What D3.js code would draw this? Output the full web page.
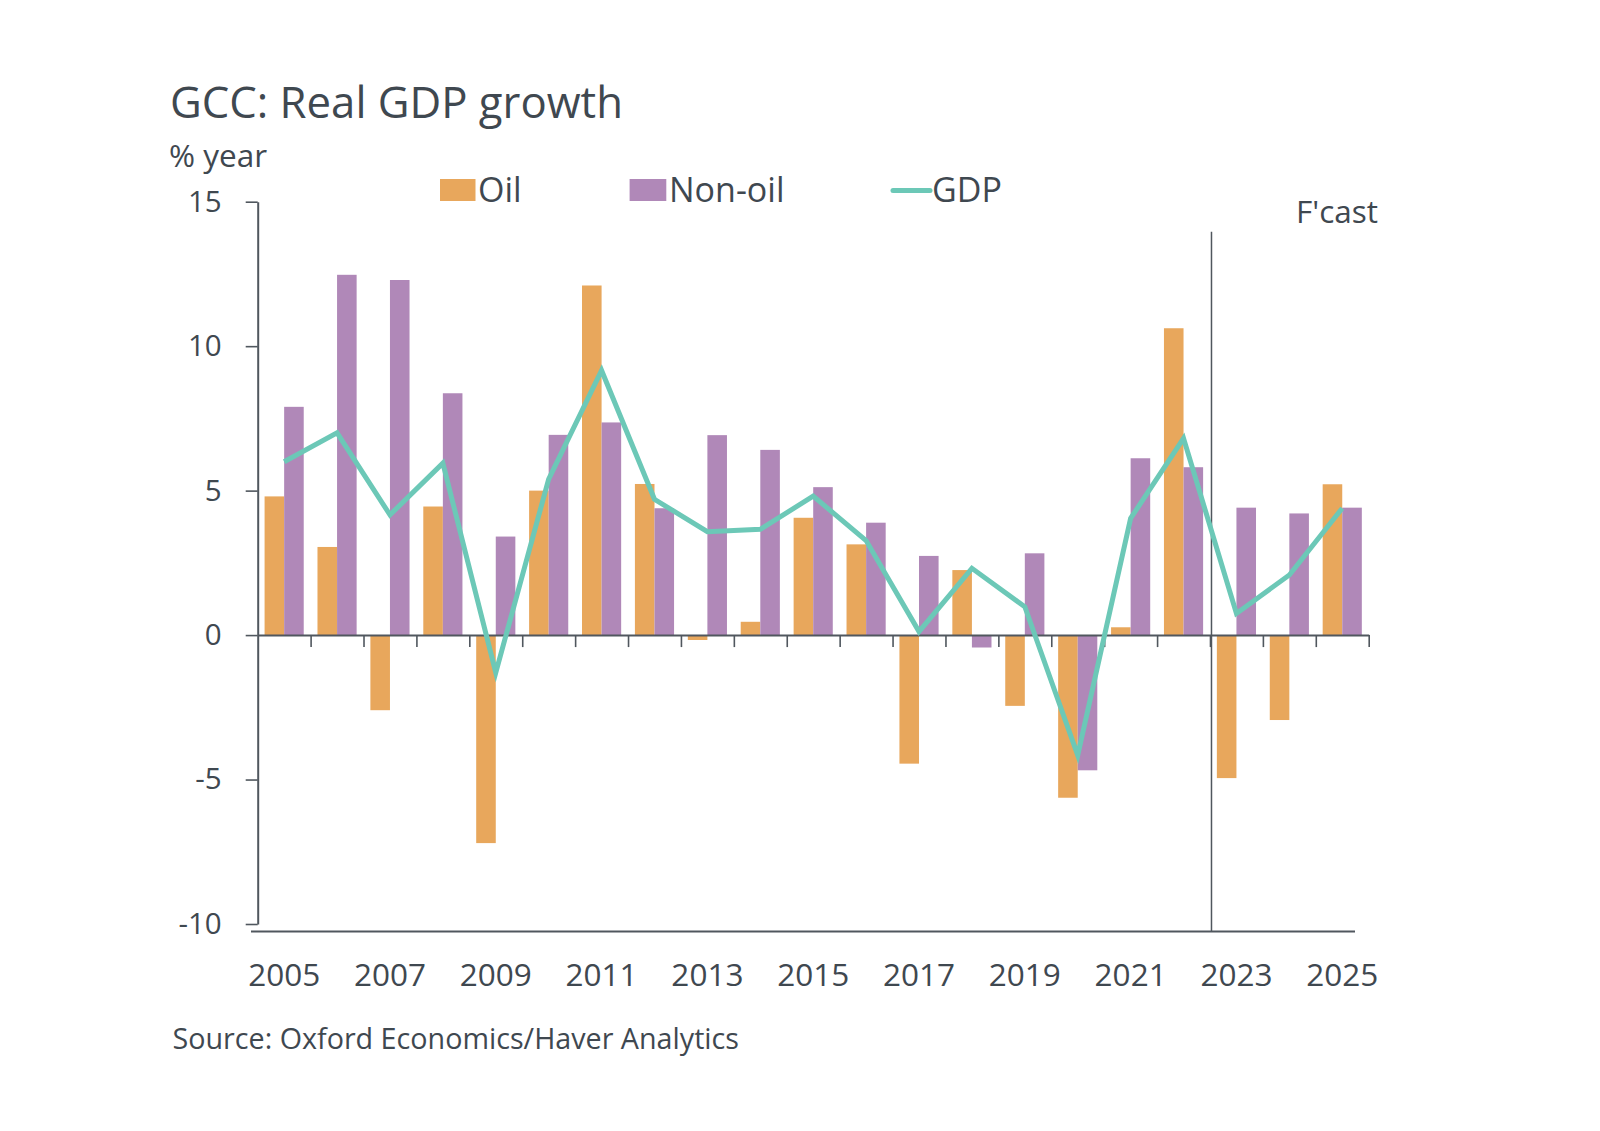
<!DOCTYPE html>
<html>
<head>
<meta charset="utf-8">
<script src="https://cdn.jsdelivr.net/npm/d3@7"></script>
<style>
  html, body { margin: 0; padding: 0; background: #ffffff; }
  svg { display: block; }
  text { font-family: "Open Sans", "Noto Sans", sans-serif; fill: #3f4850; }
</style>
</head>
<body>
<svg id="chart" width="1600" height="1131"></svg>
<script>
// ---- Data ----
const years = [2005, 2006, 2007, 2008, 2009, 2010, 2011, 2012, 2013, 2014, 2015,
               2016, 2017, 2018, 2019, 2020, 2021, 2022, 2023, 2024, 2025];
const oil    = [4.8, 3.05, -2.6, 4.45, -7.2, 5.0, 12.1, 5.23, -0.17, 0.46, 4.06,
                3.14, -4.45, 2.25, -2.45, -5.63, 0.27, 10.62, -4.95, -2.94, 5.22];
const nonOil = [7.9, 12.47, 12.29, 8.37, 3.41, 6.93, 7.36, 4.39, 6.92, 6.41, 5.12,
                3.89, 2.74, -0.43, 2.83, -4.68, 6.12, 5.81, 4.41, 4.21, 4.41];
const gdp    = [6.0, 7.0, 4.16, 5.95, -1.3, 5.4, 9.16, 4.7, 3.58, 3.66, 4.81,
                3.27, 0.12, 2.31, 0.98, -4.16, 4.04, 6.81, 0.75, 2.08, 4.39];
const yTicks = [15, 10, 5, 0, -5, -10];
const xLabels = [2005, 2007, 2009, 2011, 2013, 2015, 2017, 2019, 2021, 2023, 2025];
const seriesNames = ["Oil", "Non-oil", "GDP"];
const forecastStart = 2023;

// ---- Styles ----
const colOil = "#e8a75c", colNon = "#b088b8", colGdp = "#6cc8b7", axisCol = "#50575e";

const svg = d3.select("#chart");

const x = d3.scaleBand().domain(years).range([257.7, 1368.7]).paddingInner(0).paddingOuter(0);
const bw = x.bandwidth();
const x1 = d3.scaleBand().domain(["oil", "nonoil"]).range([bw * 0.13, bw * 0.87]).padding(0);
const y = d3.scaleLinear().domain([-10, 15]).range([924, 201.7]);

// bars
const rows = years.map((yr, i) => ({ year: yr, oil: oil[i], nonoil: nonOil[i], gdp: gdp[i] }));
const g = svg.append("g");
const colors = { oil: colOil, nonoil: colNon };
["oil", "nonoil"].forEach(key => {
  g.selectAll("rect." + key).data(rows).enter().append("rect")
    .attr("class", key)
    .attr("x", d => x(d.year) + x1(key))
    .attr("width", x1.bandwidth())
    .attr("y", d => y(Math.max(0, d[key])))
    .attr("height", d => Math.abs(y(d[key]) - y(0)))
    .attr("fill", colors[key]);
});

// zero axis with ticks at band boundaries
const xb = d3.scaleLinear().domain([0, years.length]).range(x.range());
svg.append("g").attr("transform", `translate(0,${y(0)})`)
  .call(d3.axisBottom(xb).tickValues(d3.range(1, years.length + 1)).tickSize(12).tickSizeOuter(0).tickFormat(""))
  .call(s => s.selectAll("line").attr("stroke", axisCol).attr("stroke-width", 1.6))
  .call(s => s.select(".domain").attr("stroke", axisCol).attr("stroke-width", 2));

// y axis
svg.append("g").attr("transform", `translate(${x.range()[0]},0)`)
  .call(d3.axisLeft(y).tickValues(yTicks).tickSize(12).tickSizeOuter(0).tickPadding(24).tickFormat(d => String(d)))
  .call(s => s.selectAll("line").attr("stroke", axisCol).attr("stroke-width", 1.6))
  .call(s => s.select(".domain").attr("stroke", axisCol).attr("stroke-width", 2))
  .call(s => s.selectAll("text").style("font-size", "29.5px").attr("fill", "#3f4850").attr("font-family", null));

// bottom line
svg.append("line").attr("x1", 251).attr("x2", 1355).attr("y1", 931.5).attr("y2", 931.5)
  .attr("stroke", axisCol).attr("stroke-width", 2);

// forecast divider
const fx = x(forecastStart) + 1.5;
svg.append("line").attr("x1", fx).attr("x2", fx).attr("y1", 231.7).attr("y2", 932)
  .attr("stroke", axisCol).attr("stroke-width", 1.5);

// GDP line
const line = d3.line().x(d => x(d.year) + bw / 2).y(d => y(d.gdp));
svg.append("path").datum(rows).attr("d", line)
  .attr("fill", "none").attr("stroke", colGdp).attr("stroke-width", 5).attr("stroke-linejoin", "miter");

// year labels
svg.append("g").attr("transform", "translate(0,932)")
  .call(d3.axisBottom(x).tickValues(xLabels).tickSize(0).tickPadding(32))
  .call(s => s.select(".domain").remove())
  .call(s => s.selectAll("text").style("font-size", "31.5px").attr("fill", "#3f4850").attr("font-family", null));

// title etc
svg.append("text").attr("x", 170).attr("y", 118.3).style("font-size", "43.7px").text("GCC: Real GDP growth");
svg.append("text").attr("x", 169).attr("y", 167).style("font-size", "31.5px").text("% year");
svg.append("text").attr("x", 1378).attr("y", 223.3).attr("text-anchor", "end").style("font-size", "31.5px").text("F'cast");
svg.append("text").attr("x", 172.5).attr("y", 1049).style("font-size", "28.7px").text("Source: Oxford Economics/Haver Analytics");

// legend
const lg = svg.append("g");
lg.append("rect").attr("x", 440).attr("y", 179).attr("width", 35.5).attr("height", 22).attr("fill", colOil);
lg.append("text").attr("x", 478).attr("y", 201.7).style("font-size", "34px").text(seriesNames[0]);
lg.append("rect").attr("x", 629.6).attr("y", 179).attr("width", 36.7).attr("height", 22).attr("fill", colNon);
lg.append("text").attr("x", 669).attr("y", 201.7).style("font-size", "34px").text(seriesNames[1]);
lg.append("line").attr("x1", 893).attr("x2", 930).attr("y1", 190.5).attr("y2", 190.5)
  .attr("stroke", colGdp).attr("stroke-width", 5).attr("stroke-linecap", "round");
lg.append("text").attr("x", 932).attr("y", 201.7).style("font-size", "34px").text(seriesNames[2]);
</script>
</body>
</html>
